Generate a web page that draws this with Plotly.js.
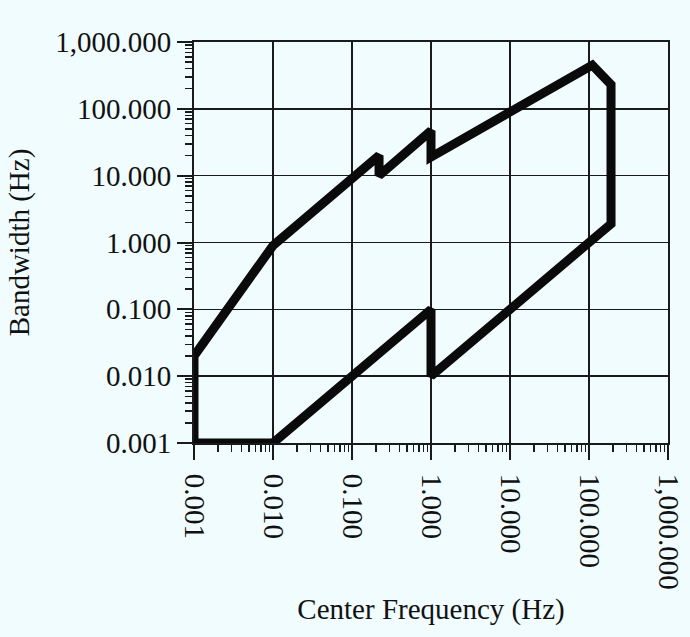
<!DOCTYPE html>
<html>
<head>
<meta charset="utf-8">
<script src="https://cdn.plot.ly/plotly-3.0.1.min.js"></script>
<style>html,body{margin:0;padding:0;background:#f0fcfe;}#chart{width:690px;height:637px;}</style>
</head>
<body>
<div id="chart"></div>
<script>
// Outline of the region (clockwise)
var centerFreq = [0.001, 0.001, 0.01, 0.22, 0.22, 1.0, 1.0, 110, 190, 190, 1.0, 1.0, 0.01, 0.001];
var bandwidth  = [0.001, 0.02, 0.9, 20, 10, 47, 19, 450, 230, 1.9, 0.01, 0.1, 0.001, 0.001];

var tickValues = [0.001, 0.01, 0.1, 1, 10, 100, 1000];
var xTickLabels = ["0.001", "0.010", "0.100", "1.000", "10.000", "100.000", "1,000.000"];
var yTickLabels = ["0.001", "0.010", "0.100", "1.000", "10.000", "100.000", "1,000.000"];

var minorVals = [];
for (var d = -3; d < 3; d++) {
  for (var m = 2; m <= 9; m++) minorVals.push(m * Math.pow(10, d));
}

var font = {family: "Liberation Serif, Times New Roman, serif", size: 29, color: "#111111"};

var trace = {
  x: centerFreq, y: bandwidth, type: "scatter", mode: "lines",
  line: {color: "#0a0a0a", width: 9},
  hoverinfo: "skip", showlegend: false
};

var axisCommon = {
  type: "log", range: [-3, 3],
  tickmode: "array", tickvals: tickValues,
  showgrid: true, gridcolor: "#1a1a1a", gridwidth: 1.5,
  showline: true, linecolor: "#1a1a1a", linewidth: 2, mirror: true,
  ticks: "outside", ticklen: 15, tickwidth: 2, tickcolor: "#1a1a1a",
  minor: {tickmode: "array", tickvals: minorVals, ticks: "outside", ticklen: 7, tickwidth: 1.5, tickcolor: "#1a1a1a", showgrid: false},
  zeroline: false, tickfont: font, automargin: false
};

var xaxis = Object.assign({}, axisCommon, {
  ticktext: xTickLabels, tickangle: 90, ticklabelstandoff: 8,
  title: {text: "Center Frequency (Hz)", font: font, standoff: 10}
});
var yaxis = Object.assign({}, axisCommon, {
  ticktext: yTickLabels,
  title: {text: "Bandwidth (Hz)", font: font, standoff: 17}
});

var layout = {
  width: 690, height: 637,
  margin: {l: 194, r: 22, t: 42, b: 194},
  paper_bgcolor: "#f0fcfe", plot_bgcolor: "#f0fcfe",
  xaxis: xaxis, yaxis: yaxis,
  font: font
};

Plotly.newPlot("chart", [trace], layout, {displayModeBar: false, staticPlot: true});
</script>
</body>
</html>
